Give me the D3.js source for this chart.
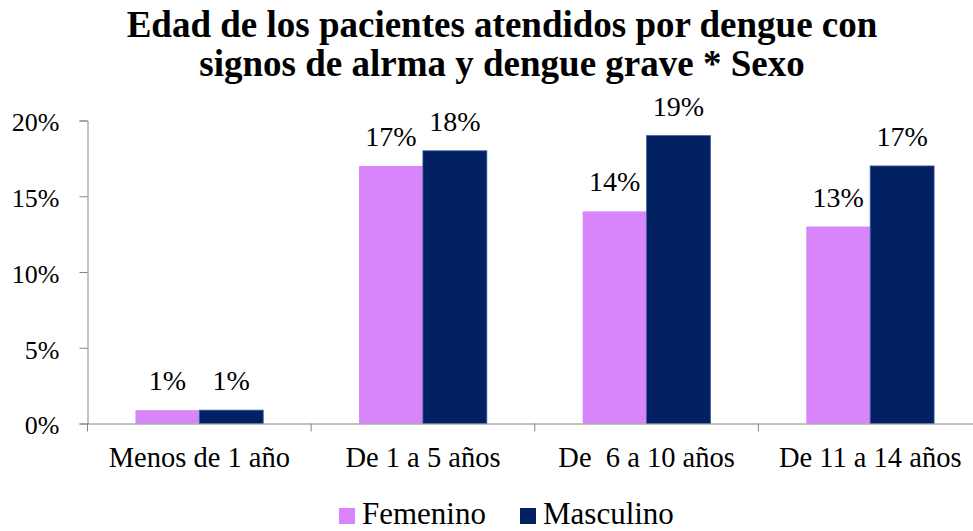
<!DOCTYPE html>
<html>
<head>
<meta charset="utf-8">
<script src="https://cdn.jsdelivr.net/npm/d3@7"></script>
<style>
  body { margin: 0; background: #fff; }
</style>
</head>
<body>
<svg id="chart"></svg>
<script>
CHART_WIDTH = 973;
CHART_HEIGHT = 531;
FONT = '"Liberation Serif"';

var titleLines = ["Edad de los pacientes atendidos por dengue con",
                  "signos de alrma y dengue grave * Sexo"];
var categories = ["Menos de 1 año", "De 1 a 5 años", "De  6 a 10 años", "De 11 a 14 años"];
var seriesNames = ["Femenino", "Masculino"];
var femenino = [0.88, 17, 14, 13];
var masculino = [0.88, 18, 19, 17];
var labelsFem = ["1%", "17%", "14%", "13%"];
var labelsMas = ["1%", "18%", "19%", "17%"];
var yTicks = [0, 5, 10, 15, 20];
var colors = ["#d885fc", "#022163"];

function buildChart() {
    var svg = d3.select("#chart")
        .attr("width", CHART_WIDTH)
        .attr("height", CHART_HEIGHT);

    var x = d3.scaleBand().domain(categories).range([87.5, 982]);
    // Excel style gap: 75% of one bar width on each side of the pair
    var xInner = d3.scaleBand().domain(seriesNames)
        .range([0, x.bandwidth()])
        .paddingInner(0)
        .paddingOuter(0.75);
    var y = d3.scaleLinear().domain([0, 20]).range([423.5, 120.5]);

    // title
    svg.append("g").selectAll("text")
        .data(titleLines)
        .enter().append("text")
        .attr("x", 502)
        .attr("y", function(d, i) { return 37 + i * 39; })
        .attr("text-anchor", "middle")
        .attr("font-size", 37)
        .attr("font-weight", "bold")
        .style("font-family", FONT)
        .text(function(d) { return d; });

    // y axis
    var yAxis = svg.append("g")
        .attr("transform", "translate(87.5,0)")
        .call(d3.axisLeft(y).tickValues(yTicks)
            .tickSize(8).tickPadding(20)
            .tickFormat(function(d) { return d + "%"; }));
    yAxis.attr("font-family", null);
    yAxis.select(".domain").attr("stroke", "#868686");
    yAxis.selectAll(".tick line").attr("stroke", "#868686");
    yAxis.selectAll(".tick text")
        .attr("font-size", 26)
        .attr("fill", "#000")
        .attr("dy", "0.4em")
        .style("font-family", FONT);

    // bars
    var groups = svg.append("g").selectAll("g")
        .data(categories)
        .enter().append("g")
        .attr("transform", function(d) { return "translate(" + x(d) + ",0)"; });

    var rows = categories.map(function(c, i) {
        return [
            { s: seriesNames[0], v: femenino[i], l: labelsFem[i], c: colors[0] },
            { s: seriesNames[1], v: masculino[i], l: labelsMas[i], c: colors[1] }
        ];
    });

    groups.selectAll("rect")
        .data(function(d, i) { return rows[i]; })
        .enter().append("rect")
        .attr("x", function(d) { return xInner(d.s); })
        .attr("width", xInner.bandwidth())
        .attr("y", function(d) { return y(d.v); })
        .attr("height", function(d) { return y(0) - y(d.v); })
        .attr("fill", function(d) { return d.c; })
        .attr("stroke", function(d) { return d.s === "Masculino" ? "#3a5a9a" : "none"; })
        .attr("stroke-width", 0.8);

    groups.selectAll("text")
        .data(function(d, i) { return rows[i]; })
        .enter().append("text")
        .attr("x", function(d) { return xInner(d.s) + xInner.bandwidth() / 2; })
        .attr("y", function(d) { return y(d.v) - 20; })
        .attr("text-anchor", "middle")
        .attr("font-size", 28)
        .style("font-family", FONT)
        .text(function(d) { return d.l; });

    // x axis
    var xAxis = svg.append("g")
        .attr("transform", "translate(0,423.5)")
        .call(d3.axisBottom(x).tickSize(0).tickPadding(23));
    xAxis.attr("font-family", null);
    xAxis.select(".domain").attr("stroke", "#868686");
    xAxis.selectAll(".tick text")
        .attr("font-size", 28.5)
        .attr("fill", "#000")
        .style("font-family", FONT)
        .style("white-space", "pre");
    // boundary ticks between categories
    xAxis.selectAll(".boundary")
        .data(categories)
        .enter().append("line")
        .attr("x1", function(d) { return x(d); })
        .attr("x2", function(d) { return x(d); })
        .attr("y1", 0).attr("y2", 8)
        .attr("stroke", "#868686");

    // legend
    var legendX = [339, 520];
    var legend = svg.append("g").selectAll("g")
        .data(seriesNames)
        .enter().append("g")
        .attr("transform", function(d, i) { return "translate(" + legendX[i] + ",508)"; });
    legend.append("rect")
        .attr("width", 16).attr("height", 16)
        .attr("fill", function(d, i) { return colors[i]; });
    legend.append("text")
        .attr("x", 23).attr("y", 16)
        .attr("font-size", 31)
        .style("font-family", FONT)
        .text(function(d) { return d; });
}

buildChart();
</script>
</body>
</html>
